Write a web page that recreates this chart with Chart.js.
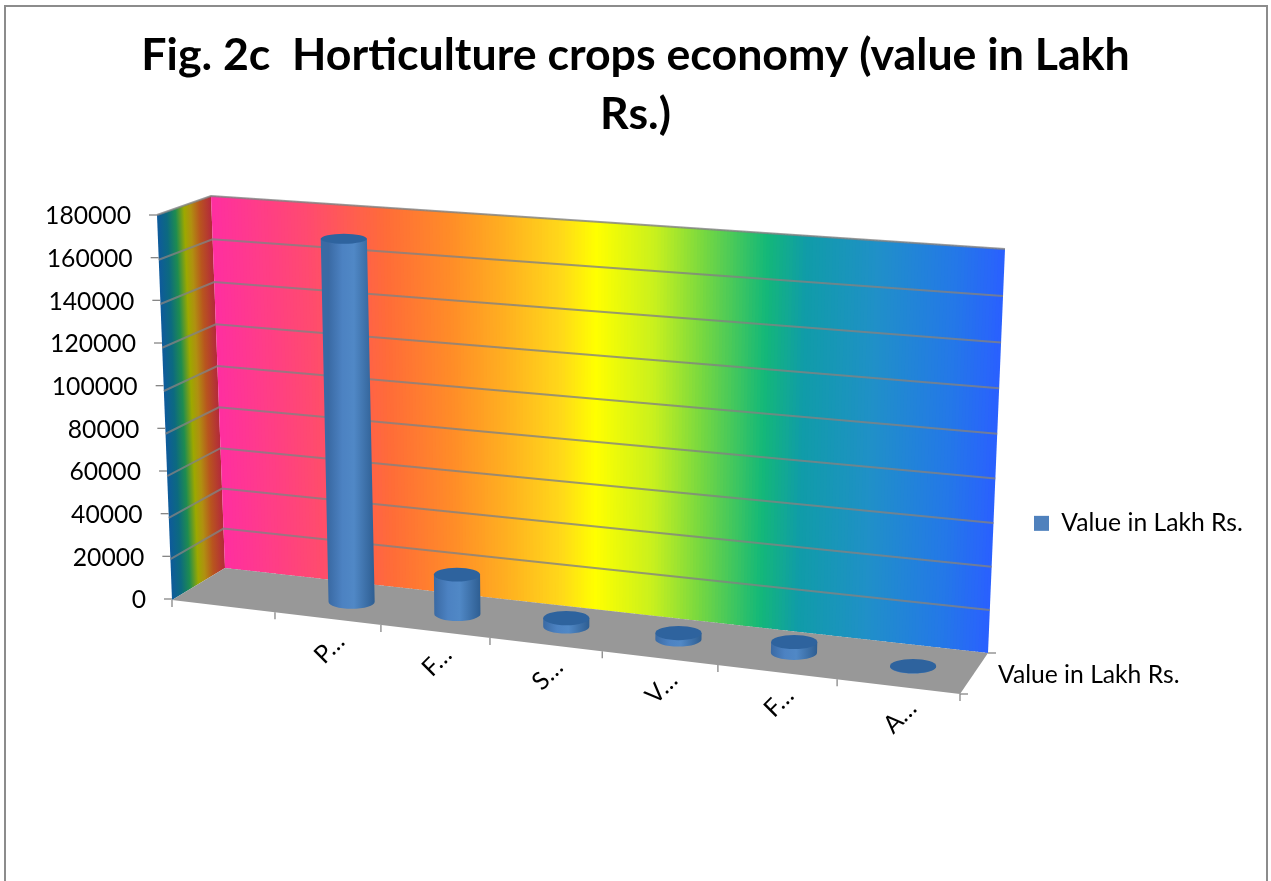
<!DOCTYPE html>
<html><head><meta charset="utf-8">
<style>html,body{margin:0;padding:0;background:#fff}canvas{display:block}</style>
<script src="https://cdn.jsdelivr.net/npm/chart.js@4"></script>
</head><body>
<canvas id="c" width="1271" height="881"></canvas>
<script>
const titleLines = ['Fig. 2c  Horticulture crops economy (value in Lakh', 'Rs.)'];
const categories = ['', 'P…', 'F…', 'S…', 'V…', 'F…', 'A…'];
const values = [null, 170000, 19000, 4000, 3000, 5000, 200];
const seriesName = 'Value in Lakh Rs.';
const yMax = 180000;
const yStep = 20000;
const FONT = 'Lato, Carlito, sans-serif';
const TEXT_SIZE = 24.7;

// 3D box corners: [front/back][bottom/top]
const C = {
  fb0:[172,600], fb1:[960,694], bb0:[225,568], bb1:[988,653],
  ft0:[157,215], ft1:[977,272], bt0:[211,196], bt1:[1005,249]
};
const lerp=(a,b,t)=>a+(b-a)*t;
const lp=(a,b,t)=>[lerp(a[0],b[0],t),lerp(a[1],b[1],t)];
const warpU=u=>u*(1-0.098)/(1-0.098*u);
const warpV=v=>v*(1-0.05)/(1-0.05*v);
function P(u,d,v){
  const U=warpU(u),V=warpV(v);
  const bottom=lp(lp(C.fb0,C.fb1,U),lp(C.bb0,C.bb1,U),d);
  const top=lp(lp(C.ft0,C.ft1,U),lp(C.bt0,C.bt1,U),d);
  return lp(bottom,top,V);
}
const hex=h=>[parseInt(h.slice(1,3),16),parseInt(h.slice(3,5),16),parseInt(h.slice(5,7),16)];
function ramp(stops,t){
  for(let i=1;i<stops.length;i++){
    if(t<=stops[i][0]){
      const a=stops[i-1],b=stops[i],k=(t-a[0])/(b[0]-a[0]);
      const ca=hex(a[1]),cb=hex(b[1]);
      return `rgb(${ca.map((c,j)=>Math.round(lerp(c,cb[j],k))).join(',')})`;
    }
  }
  return stops[stops.length-1][1];
}
const backStops=[[0,'#FF2FA0'],[.12,'#FF4A70'],[.22,'#FF6C38'],[.3,'#FF8C28'],[.37,'#FFB020'],[.44,'#FFD81A'],[.485,'#FFFF00'],[.56,'#C8F01E'],[.62,'#78D840'],[.70,'#14B878'],[.75,'#109CA8'],[.84,'#2090C8'],[.94,'#2478E8'],[1,'#2A60FF']];
const sideStops=[[0,'#0E5A9C'],[.18,'#0C6A80'],[.34,'#1E8C50'],[.5,'#9CA800'],[.62,'#B09010'],[.78,'#B8551E'],[1,'#B4283C']];
function poly(ctx,pts){ctx.beginPath();pts.forEach((p,i)=>i?ctx.lineTo(p[0],p[1]):ctx.moveTo(p[0],p[1]));ctx.closePath();}

const scene={
  id:'scene',
  beforeLayout(chart){
    const lg=chart.legend;
    if(lg&&!lg._pinned){const f=lg.fit;lg.fit=function(){f.call(this);this.width=311;};lg._pinned=true;}
  },
  beforeDraw(chart){
    const {ctx,scales:{x,y}}=chart;
    // outer frame (bottom edge is cut off)
    ctx.save();ctx.strokeStyle='#8C8C8C';ctx.lineWidth=2;
    ctx.beginPath();ctx.moveTo(5,881);ctx.lineTo(5,6);ctx.lineTo(1267,6);ctx.lineTo(1267,881);ctx.stroke();ctx.restore();
    // pin the legend
    const lg=chart.legend;lg.left=1024;lg.right=lg.left+lg.width;lg.top=501;lg.bottom=lg.top+lg.height;
    // move tick labels on to the slanted axes
    y.getLabelItems().forEach((it,i)=>{
      const t=y.ticks[i].value/yMax;
      it.options.translation[0]=lerp(146,131,t);
      it.options.translation[1]=y.getPixelForValue(y.ticks[i].value)+1.5;
    });
    x.getLabelItems().forEach((it,i)=>{
      const u=(x.getPixelForTick(i)-chart.chartArea.left)/chart.chartArea.width;
      const p=P(u,0,0);
      it.options.translation=[p[0]+2,p[1]+30];
      it.options.textAlign='center';
      it.options.textBaseline='middle';
      it.textOffset=0;
    });
  },
  beforeDatasetDraw(chart){
    const {ctx,scales:{x,y},chartArea:a}=chart;
    ctx.save();
    // side wall
    const sg=ctx.createLinearGradient(C.ft0[0],C.ft0[1],C.ft0[0]+54.6,C.ft0[1]-2.1);
    sideStops.forEach(s=>sg.addColorStop(s[0],s[1]));
    ctx.fillStyle=sg;
    poly(ctx,[C.fb0,C.bb0,C.bt0,C.ft0]);ctx.fill();
    // back wall
    const M=240;
    for(let i=0;i<M;i++){
      const f0=i/M,f1=Math.min((i+1.5)/M,1);
      const b0=lp(C.bb0,C.bb1,f0),t0=lp(C.bt0,C.bt1,f0),b1=lp(C.bb0,C.bb1,f1),t1=lp(C.bt0,C.bt1,f1);
      ctx.fillStyle=ramp(backStops,(i+.5)/M);
      poly(ctx,[b0,b1,t1,t0]);ctx.fill();
    }
    // floor
    ctx.fillStyle='#989898';
    poly(ctx,[C.fb0,C.fb1,C.bb1,C.bb0]);ctx.fill();
    // grid lines
    ctx.lineWidth=2;ctx.strokeStyle='rgba(130,130,130,0.8)';
    y.ticks.forEach(t=>{
      if(t.value===0)return;
      const v=t.value/yMax;
      ctx.beginPath();
      const p=P(0,0,v),q=P(0,1,v),r=P(1,1,v);
      ctx.moveTo(p[0],p[1]);ctx.lineTo(q[0],q[1]);ctx.lineTo(r[0],r[1]);ctx.stroke();
    });
    // axes and tick marks
    ctx.strokeStyle='#868686';ctx.lineWidth=1.3;
    y.ticks.forEach(t=>{
      const v=t.value/yMax;
      const px=y.getPixelForValue(t.value);
      const ax=lerp(C.fb0[0],C.ft0[0],v);
      ctx.beginPath();ctx.moveTo(ax-8,px);ctx.lineTo(ax,px);ctx.stroke();
    });
    for(let i=0;i<=categories.length;i++){
      const p=P(i/categories.length,0,0);
      ctx.beginPath();ctx.moveTo(p[0],p[1]);ctx.lineTo(p[0],p[1]+7);ctx.stroke();
    }
    ctx.beginPath();ctx.moveTo(C.fb1[0],C.fb1[1]);ctx.lineTo(C.fb1[0]+8,C.fb1[1]);ctx.stroke();
    ctx.beginPath();ctx.moveTo(C.bb1[0],C.bb1[1]);ctx.lineTo(C.bb1[0]+8,C.bb1[1]);ctx.stroke();
    // depth-axis label
    ctx.fillStyle='#000';ctx.font=TEXT_SIZE+'px '+FONT;ctx.textAlign='left';ctx.textBaseline='middle';
    ctx.fillText(seriesName,998,675);
    // cylinders, from the bar elements the library laid out
    const meta=chart.getDatasetMeta(0);
    meta.data.forEach((bar,i)=>{
      if(values[i]==null)return;
      const u=(bar.x-a.left)/a.width;
      const v=(a.bottom-bar.y)/a.height;
      const base=P(u,.5,0),top=P(u,.5,v);
      const rx=bar.width/2,ryB=rx*.31,ryT=rx*(.31-.1*v);
      const g=ctx.createLinearGradient(base[0]-rx,0,base[0]+rx,0);
      g.addColorStop(0,'#3A6AA4');g.addColorStop(.3,'#4C82C2');g.addColorStop(.55,'#5088C6');g.addColorStop(1,'#2E5E92');
      ctx.fillStyle=g;
      ctx.beginPath();
      ctx.moveTo(top[0]-rx,top[1]);
      ctx.lineTo(base[0]-rx,base[1]);
      ctx.ellipse(base[0],base[1],rx,ryB,0,Math.PI,0,true);
      ctx.lineTo(top[0]+rx,top[1]);
      ctx.closePath();ctx.fill();
      ctx.fillStyle='#2E639E';
      ctx.beginPath();ctx.ellipse(top[0],top[1],rx,ryT,0,0,Math.PI*2);ctx.fill();
    });
    ctx.restore();
    return false;
  }
};

new Chart(document.getElementById('c'),{
  type:'bar',
  plugins:[scene],
  data:{labels:categories,datasets:[{label:seriesName,data:values,backgroundColor:'#4F81BD',borderWidth:0,categoryPercentage:1,barPercentage:.41}]},
  options:{
    responsive:false,animation:false,
    layout:{padding:0},
    plugins:{
      tooltip:{enabled:false},
      title:{display:true,text:titleLines,color:'#000',align:'center',
        font:{family:FONT,size:44.7,weight:'bold',lineHeight:1.32},
        padding:{top:26,bottom:71}},
      legend:{display:true,position:'right',align:'start',
        labels:{color:'#000',boxWidth:15,boxHeight:15,padding:10,font:{family:FONT,size:TEXT_SIZE}}}
    },
    scales:{
      x:{type:'category',offset:true,grid:{display:false},border:{display:false},
        afterFit:s=>{s.height=282;},
        ticks:{autoSkip:false,minRotation:45,maxRotation:45,color:'#000',font:{family:FONT,size:TEXT_SIZE}}},
      y:{type:'linear',min:0,max:yMax,grid:{display:false},border:{display:false},
        afterFit:s=>{s.width=172;},
        ticks:{stepSize:yStep,color:'#000',font:{family:FONT,size:TEXT_SIZE},callback:v=>String(v)}}
    }
  }
});
</script>
</body></html>
